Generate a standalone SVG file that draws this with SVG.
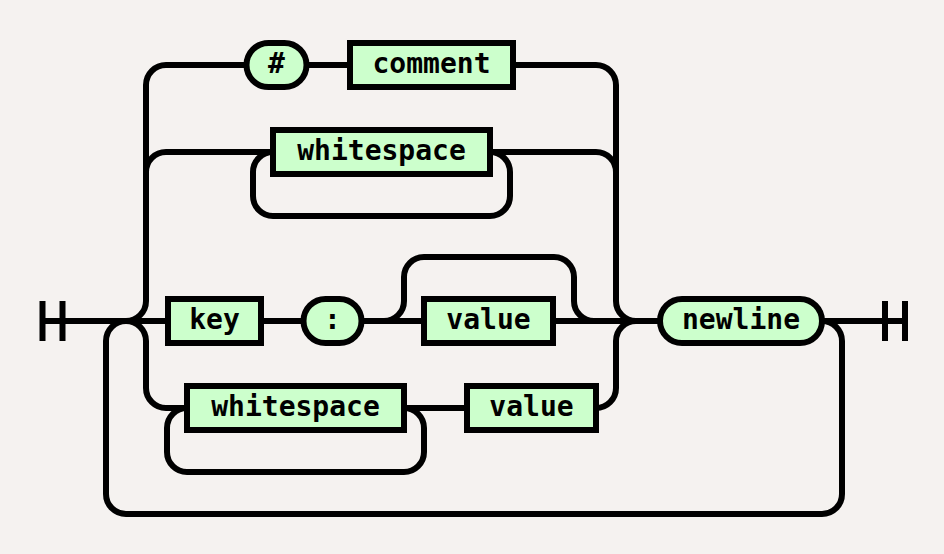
<svg xmlns="http://www.w3.org/2000/svg" width="944" height="554" viewBox="0 0 944 554">
<style>
.bg{fill:#f5f2f0}
.conn path{fill:none;stroke:#000;stroke-width:6}
.node rect{fill:#ccffcc;stroke:#000;stroke-width:6}
.node text{font-family:"DejaVu Sans Mono","Liberation Mono",monospace;font-weight:bold;font-size:28px;text-anchor:middle;fill:#000}
</style>
<rect class="bg" x="0" y="0" width="944" height="554"/>
<g id="connectors" class="conn">
<path d="M42.5 301v40M62.5 301v40M42.5 321H168"/>
<path d="M126 321A20 20 0 0 0 106 341V494A20 20 0 0 0 126 514H822A20 20 0 0 0 842 494V341A20 20 0 0 0 822 321"/>
<path d="M126 321A20 20 0 0 0 146 301V85A20 20 0 0 1 166 65H247"/>
<path d="M146 301V172A20 20 0 0 1 166 152H273"/>
<path d="M126 321A20 20 0 0 1 146 341V388A20 20 0 0 0 166 408H187"/>
<path d="M306 65H350"/>
<path d="M513 65H596A20 20 0 0 1 616 85V301A20 20 0 0 0 636 321"/>
<path d="M273 152A20 20 0 0 0 253 172V196A20 20 0 0 0 273 216H490A20 20 0 0 0 510 196V172A20 20 0 0 0 490 152"/>
<path d="M490 152H596A20 20 0 0 1 616 172V301"/>
<path d="M261 321H304M361 321H424M553 321H660"/>
<path d="M384 321A20 20 0 0 0 404 301V277A20 20 0 0 1 424 257H554A20 20 0 0 1 574 277V301A20 20 0 0 0 594 321"/>
<path d="M187 408A20 20 0 0 0 167 428V452A20 20 0 0 0 187 472H404A20 20 0 0 0 424 452V428A20 20 0 0 0 404 408"/>
<path d="M404 408H467M596 408A20 20 0 0 0 616 388V341A20 20 0 0 1 636 321"/>
<path d="M822 321H905M885 301v40M905 301v40"/>
</g>
<g id="n-hash" class="node"><rect x="246.5" y="43" width="60" height="44" rx="22"/><text x="276.5" y="73">#</text></g>
<g id="n-comment" class="node"><rect x="350" y="43" width="163" height="44"/><text x="431.5" y="73">comment</text></g>
<g id="n-whitespace1" class="node"><rect x="273" y="130" width="217" height="44"/><text x="381.5" y="160">whitespace</text></g>
<g id="n-key" class="node"><rect x="168" y="299" width="93" height="44"/><text x="214.5" y="329">key</text></g>
<g id="n-colon" class="node"><rect x="303.5" y="299" width="58" height="44" rx="22"/><text x="332.5" y="329">:</text></g>
<g id="n-value1" class="node"><rect x="424" y="299" width="129" height="44"/><text x="488.5" y="329">value</text></g>
<g id="n-whitespace2" class="node"><rect x="187" y="386" width="217" height="44"/><text x="295.5" y="416">whitespace</text></g>
<g id="n-value2" class="node"><rect x="467" y="386" width="129" height="44"/><text x="531.5" y="416">value</text></g>
<g id="n-newline" class="node"><rect x="660" y="299" width="162" height="44" rx="22"/><text x="741" y="329">newline</text></g>
</svg>
